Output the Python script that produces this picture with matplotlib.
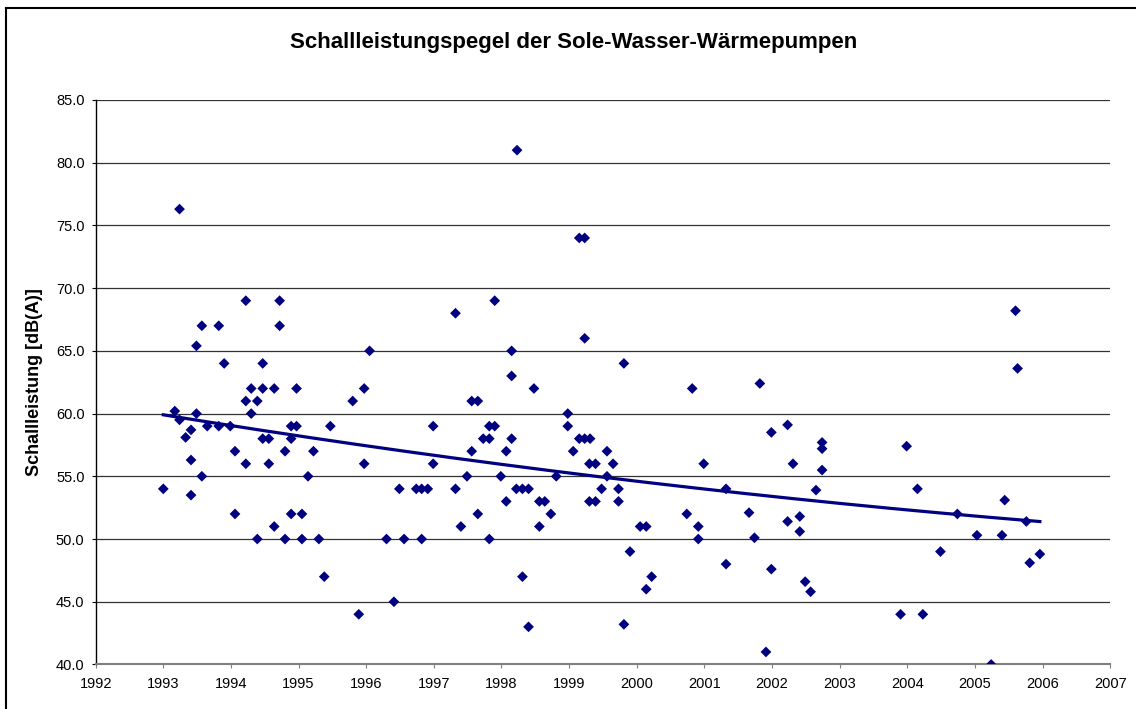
import numpy as np
import matplotlib
matplotlib.use("Agg")
import matplotlib.pyplot as plt
from matplotlib.lines import Line2D

# ── 1. DATA (test year, sound power level dB(A)) ─────────────────────────────
years = [
    1993.00, 1993.17, 1993.24, 1993.24, 1993.33, 1993.41, 1993.41, 1993.41,
    1993.49, 1993.49, 1993.57, 1993.57, 1993.65, 1993.82, 1993.82, 1993.90,
    1993.99,
    1994.06, 1994.06, 1994.22, 1994.22, 1994.22, 1994.30, 1994.30, 1994.39,
    1994.39, 1994.47, 1994.47, 1994.47, 1994.56, 1994.56, 1994.64, 1994.64,
    1994.72, 1994.72, 1994.80, 1994.80, 1994.89, 1994.89, 1994.89, 1994.97,
    1994.97,
    1995.05, 1995.05, 1995.14, 1995.22, 1995.30, 1995.38, 1995.47, 1995.80,
    1995.89, 1995.97, 1995.97, 1996.05,
    1996.30, 1996.41, 1996.49, 1996.56, 1996.74, 1996.82, 1996.82, 1996.91,
    1996.99, 1996.99,
    1997.32, 1997.32, 1997.40, 1997.49, 1997.56, 1997.56, 1997.65, 1997.65,
    1997.73, 1997.82, 1997.82, 1997.82, 1997.90, 1997.90, 1997.99,
    1998.07, 1998.07, 1998.15, 1998.15, 1998.15, 1998.23, 1998.22, 1998.31,
    1998.31, 1998.40, 1998.40, 1998.48, 1998.56, 1998.56, 1998.64, 1998.73,
    1998.81, 1998.98, 1998.98,
    1999.06, 1999.15, 1999.15, 1999.23, 1999.23, 1999.23, 1999.31, 1999.30,
    1999.30, 1999.39, 1999.39, 1999.48, 1999.56, 1999.56, 1999.65, 1999.73,
    1999.73, 1999.81, 1999.81, 1999.90,
    2000.05, 2000.14, 2000.14, 2000.22, 2000.74, 2000.82, 2000.91, 2000.91,
    2000.99,
    2001.32, 2001.32, 2001.66, 2001.74, 2001.82, 2001.91, 2001.99, 2001.99,
    2002.23, 2002.23, 2002.31, 2002.41, 2002.41, 2002.49, 2002.57, 2002.65,
    2002.74, 2002.74, 2002.74,
    2003.90, 2003.99, 2004.15, 2004.23, 2004.49, 2004.74, 2005.03, 2005.24,
    2005.40, 2005.44, 2005.60, 2005.63, 2005.76, 2005.81, 2005.96,
]
levels = [
    54.0, 60.2, 59.5, 76.3, 58.1, 58.7, 56.3, 53.5,
    60.0, 65.4, 55.0, 67.0, 59.0, 59.0, 67.0, 64.0,
    59.0,
    57.0, 52.0, 61.0, 56.0, 69.0, 62.0, 60.0, 61.0,
    50.0, 62.0, 58.0, 64.0, 58.0, 56.0, 62.0, 51.0,
    69.0, 67.0, 57.0, 50.0, 59.0, 58.0, 52.0, 62.0,
    59.0,
    52.0, 50.0, 55.0, 57.0, 50.0, 47.0, 59.0, 61.0,
    44.0, 62.0, 56.0, 65.0,
    50.0, 45.0, 54.0, 50.0, 54.0, 54.0, 50.0, 54.0,
    59.0, 56.0,
    68.0, 54.0, 51.0, 55.0, 61.0, 57.0, 61.0, 52.0,
    58.0, 59.0, 58.0, 50.0, 69.0, 59.0, 55.0,
    57.0, 53.0, 65.0, 63.0, 58.0, 81.0, 54.0, 54.0,
    47.0, 54.0, 43.0, 62.0, 53.0, 51.0, 53.0, 52.0,
    55.0, 60.0, 59.0,
    57.0, 74.0, 58.0, 74.0, 66.0, 58.0, 58.0, 56.0,
    53.0, 56.0, 53.0, 54.0, 57.0, 55.0, 56.0, 54.0,
    53.0, 64.0, 43.2, 49.0,
    51.0, 51.0, 46.0, 47.0, 52.0, 62.0, 51.0, 50.0,
    56.0,
    54.0, 48.0, 52.1, 50.1, 62.4, 41.0, 58.5, 47.6,
    59.1, 51.4, 56.0, 51.8, 50.6, 46.6, 45.8, 53.9,
    57.7, 57.2, 55.5,
    44.0, 57.4, 54.0, 44.0, 49.0, 52.0, 50.3, 40.0,
    50.3, 53.1, 68.2, 63.6, 51.4, 48.1, 48.8,
]

TITLE = "Schallleistungspegel der Sole-Wasser-Wärmepumpen"
YLABEL = "Schallleistung [dB(A)]"
NAVY = "#000080"

x = np.array(years)
y = np.array(levels)

# ── 2. TREND (2nd order polynomial, like the spreadsheet trendline) ──────────
coef = np.polyfit(x - 1999, y, 2)
xt = np.linspace(x.min(), x.max(), 200)
yt = np.polyval(coef, xt - 1999)

# ── 3. PLOT ──────────────────────────────────────────────────────────────────
plt.rcParams["font.family"] = ["Liberation Sans", "DejaVu Sans"]

fig = plt.figure(figsize=(11.36, 7.09), dpi=100)
ax = fig.add_axes([0.0842, 0.0628, 0.8931, 0.7962])

ax.scatter(x, y, marker="D", s=30, color=NAVY, edgecolors="none", zorder=4)
ax.plot(xt, yt, color=NAVY, linewidth=2.3, zorder=3)

ax.set_xlim(1992, 2007)
ax.set_ylim(40, 85)
ax.set_xticks(np.arange(1992, 2008, 1))
ax.set_yticks(np.arange(40, 86, 5))
ax.set_yticklabels([f"{v:.1f}" for v in np.arange(40, 86, 5)])

ax.grid(axis="y", color="#333333", linewidth=0.9)
ax.set_axisbelow(True)
for s in ("top", "right"):
    ax.spines[s].set_visible(False)
ax.spines["left"].set_color("black")
ax.spines["left"].set_linewidth(1.0)
ax.spines["bottom"].set_color("#808080")
ax.spines["bottom"].set_linewidth(1.5)

ax.tick_params(axis="both", direction="out", length=3, labelsize=10.5, pad=5)
ax.tick_params(axis="x", colors="#808080", labelcolor="black", pad=6)

ax.set_ylabel(YLABEL, fontsize=13, fontweight="bold", labelpad=9)
fig.text(0.505, 0.94, TITLE, ha="center", va="center",
         fontsize=16, fontweight="bold")

# chart frame (top and left edges visible in the reference)
fig.add_artist(Line2D([6 / 1136, 1.0], [1 - 8 / 709, 1 - 8 / 709],
                      transform=fig.transFigure, color="black", linewidth=1.5))
fig.add_artist(Line2D([6 / 1136, 6 / 1136], [0.0, 1 - 8 / 709],
                      transform=fig.transFigure, color="black", linewidth=1.5))

fig.savefig("out.png", dpi=100)
